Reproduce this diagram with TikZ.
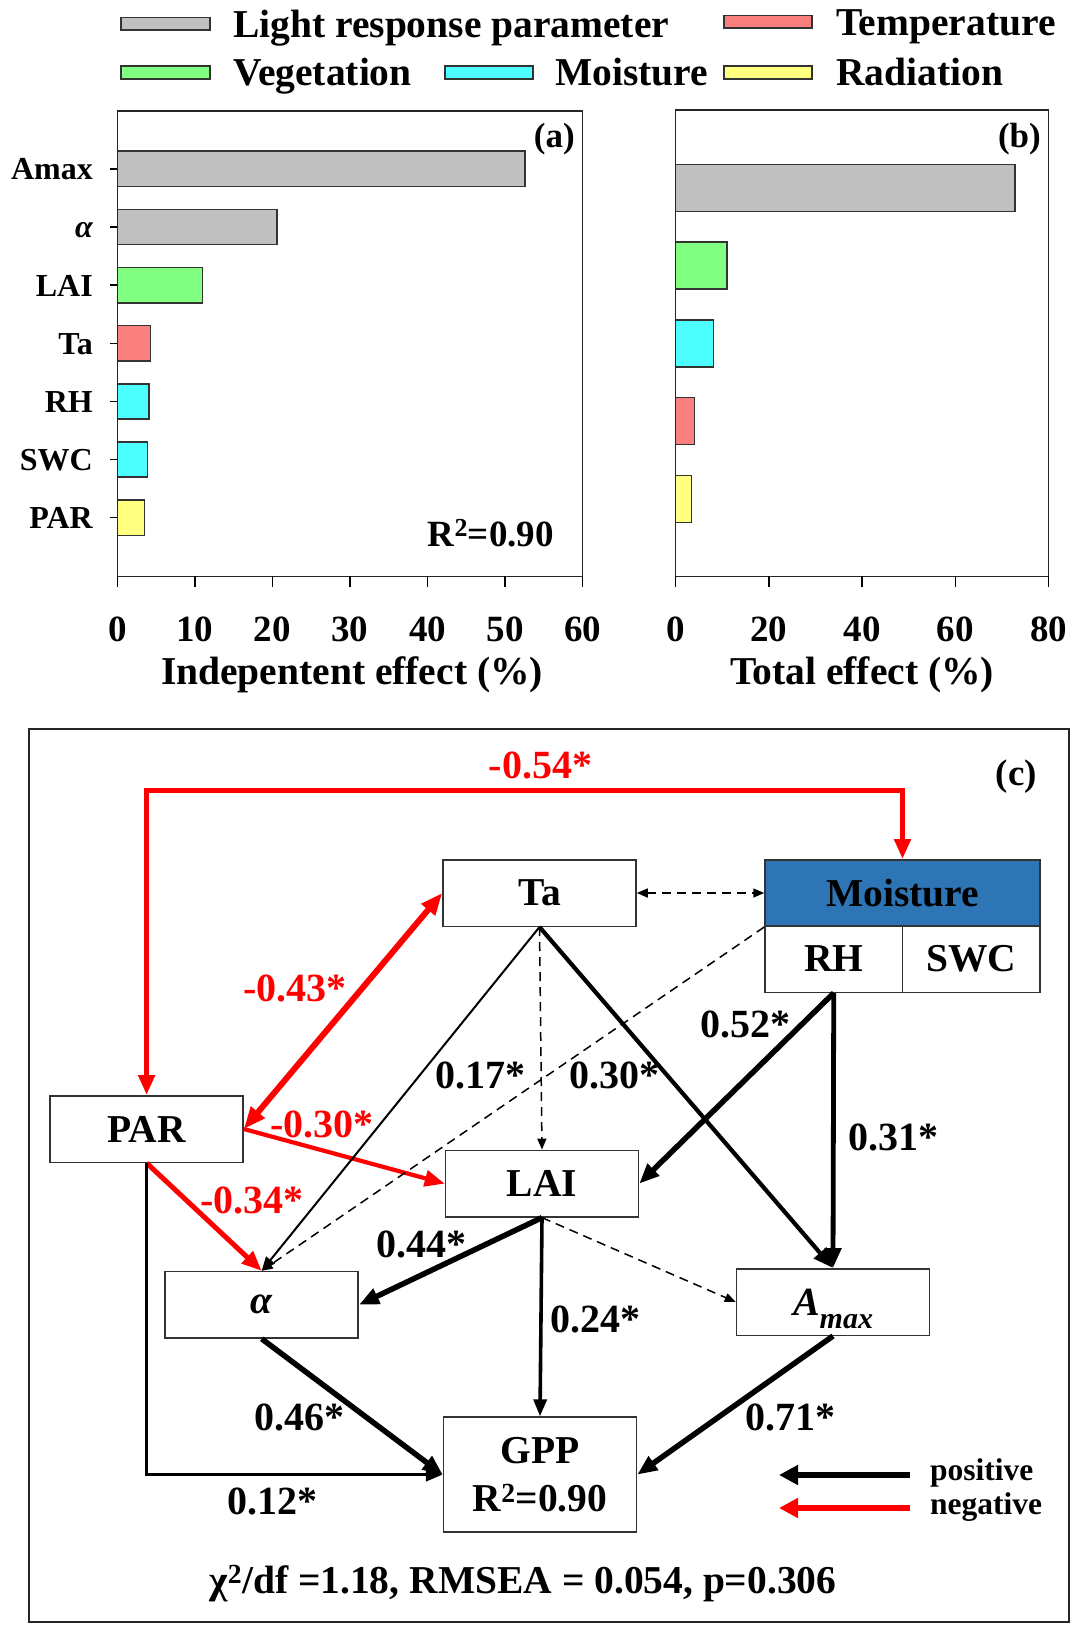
\documentclass[tikz,border=0pt]{standalone}
\usepackage{fontspec}
\setmainfont{Liberation Serif}
\usetikzlibrary{arrows.meta}
\definecolor{barGray}{HTML}{C0C0C0}
\definecolor{barRed}{HTML}{FA8080}
\definecolor{barGreen}{HTML}{80FF80}
\definecolor{barCyan}{HTML}{4DFFFF}
\definecolor{barYellow}{HTML}{FFFF80}
\definecolor{moistBlue}{HTML}{2E75B6}
\definecolor{negRed}{HTML}{FF0000}
\definecolor{edgeGray}{HTML}{333333}
\newcommand{\fsz}[2]{\fontsize{#1}{#2}\selectfont}
\begin{document}
\begin{tikzpicture}[x=1pt,y=-1pt,
  swatch/.style={draw=edgeGray,line width=1.4pt},
  barbox/.style={draw=edgeGray,line width=1.5pt},
  axframe/.style={draw=black!85,line width=1.6pt},
  legtxt/.style={anchor=base west,inner sep=0pt,font=\fsz{39.5}{44}\bfseries},
  cattxt/.style={anchor=base east,inner sep=0pt,font=\fsz{32}{36}\bfseries},
  ticktxt/.style={anchor=base,inner sep=0pt,font=\fsz{37}{42}\bfseries},
  axtxt/.style={anchor=base,inner sep=0pt,font=\fsz{39.5}{44}\bfseries},
  bx/.style={draw=edgeGray,line width=1.5pt,fill=white,minimum width=193pt,minimum height=66.5pt,inner sep=0pt,font=\fsz{39.5}{48}\bfseries},
  lbl/.style={inner sep=0pt,font=\fsz{40}{44}\bfseries},
  nlbl/.style={lbl,text=negRed},
  thk/.style={draw=black,line width=5.5pt,-{Triangle[length=20pt,width=16pt]}},
  med/.style={draw=black,line width=3.6pt,-{Triangle[length=17pt,width=13pt]}},
  thn/.style={draw=black,line width=2pt,-{Triangle[length=14pt,width=11pt]}},
  dsh/.style={draw=black,line width=1.5pt,dash pattern=on 9pt off 6pt,-{Triangle[length=11pt,width=9pt]}},
  neg/.style={draw=negRed,line width=5pt,-{Triangle[length=20pt,width=16pt]}},
]
\useasboundingbox[fill=white] (0,0) rectangle (1080,1628);

% ---------------- legend ----------------
\draw[swatch,fill=barGray]   (121,17.5) rectangle (210,30);
\draw[swatch,fill=barRed]    (724,15.5) rectangle (812,28);
\draw[swatch,fill=barGreen]  (121,66) rectangle (210,79);
\draw[swatch,fill=barCyan]   (445,66) rectangle (533,79);
\draw[swatch,fill=barYellow] (724,66) rectangle (812,79);
\node[legtxt] (lg1) at (233,37) {Light response parameter};
\node[legtxt] (lg2) at (836,35) {Temperature};
\node[legtxt] (lg3) at (233,85) {Vegetation};
\node[legtxt] (lg4) at (555,85) {Moisture};
\node[legtxt] (lg5) at (836,85) {Radiation};

% ---------------- panel (a) ----------------
\foreach \v/\c [count=\i from 0] in {52.6/barGray,20.6/barGray,11.0/barGreen,4.3/barRed,4.1/barCyan,3.9/barCyan,3.5/barYellow}{
  \draw[barbox,fill=\c] (117.3,{168.8+58.15*\i-17.65}) rectangle ({117.3+7.755*\v},{168.8+58.15*\i+17.65});
  \draw[line width=1.5pt] (110,{168.8+58.15*\i}) -- (117.3,{168.8+58.15*\i});
}
\foreach \t [count=\i from 0] in {Amax,{\itshape α},LAI,Ta,RH,SWC,PAR}{
  \node[cattxt] (cat\i) at (93,{168.8+58.15*\i+11}) {\t};
}
\draw[axframe] (117.3,111) rectangle (582.6,576.4);
\foreach \k/\t in {0/0,1/10,2/20,3/30,4/40,5/50,6/60}{
  \draw[line width=1.5pt] ({117.3+77.55*\k},576.4) -- ++(0,11);
  \node[ticktxt] (ta\k) at ({117.3+77.55*\k},641) {\t};
}
\node[axtxt] (xa) at (352,684) {Indepentent effect (\%)};
\node[anchor=base east,inner sep=0pt,font=\fsz{35}{40}\bfseries] (pa) at (575,147) {(a)};
\node[anchor=base east,inner sep=0pt,font=\fsz{37}{42}\bfseries] (r2a) at (554,546) {R\textsuperscript{2}=0.90};

% ---------------- panel (b) ----------------
\foreach \v/\c [count=\i from 0] in {72.8/barGray,11.0/barGreen,8.1/barCyan,4.1/barRed,3.45/barYellow}{
  \draw[barbox,fill=\c] (675.5,{188+77.7*\i-23.5}) rectangle ({675.5+4.664*\v},{188+77.7*\i+23.5});
}
\draw[axframe] (675.5,110) rectangle (1048.6,576.4);
\foreach \k/\t in {0/0,1/20,2/40,3/60,4/80}{
  \draw[line width=1.5pt] ({675.5+93.28*\k},576.4) -- ++(0,11);
  \node[ticktxt] (tb\k) at ({675.5+93.28*\k},641) {\t};
}
\node[axtxt] (xb) at (862,684) {Total effect (\%)};
\node[anchor=base east,inner sep=0pt,font=\fsz{35}{40}\bfseries] (pb) at (1041,147) {(b)};

% ---------------- panel (c) ----------------
\draw[line width=2pt,draw=black!85] (28.5,729) rectangle (1069,1622);
\node[anchor=base east,inner sep=0pt,font=\fsz{37}{40}\bfseries] (pc) at (1037,785) {(c)};

\node[bx] (ta) at (539.5,893) {Ta};
\node[bx,fill=moistBlue,minimum width=275pt] (moist) at (902.5,893) {Moisture};
\node[bx,minimum width=137.5pt] (rh) at (833.75,959) {RH};
\node[bx,minimum width=137.5pt] (swc) at (971.25,959) {SWC};
\node[bx] (par) at (146.6,1129) {PAR};
\node[bx] (lai) at (542,1183.6) {LAI};
\node[bx] (alpha) at (261.7,1304.8) {\itshape α};
\node[bx,text height=40pt,text depth=13pt] (amax) at (833,1302) {\fsz{40}{44}\itshape A\raisebox{-13pt}{\fsz{30}{32}max}};
\node[bx,minimum height=115pt,align=center] (gpp) at (540,1474.6) {GPP\\R\textsuperscript{2}=0.90};

\coordinate (topline) at (0,790);

% red (negative) paths
\draw[neg,{Triangle[length=20pt,width=16pt]}-{Triangle[length=20pt,width=16pt]}]
  (par.north) -- (par.north |- topline) -- (moist.north |- topline) -- (moist.north);
\draw[neg,line width=6pt,{Triangle[length=22pt,width=17pt]}-{Triangle[length=22pt,width=17pt]}] (par.east) -- (ta.west);
\draw[neg,line width=4.2pt] (par.east) -- (lai.west);
\draw[neg] (par.south) -- (alpha.north);

% dashed (non-significant)
\draw[dsh,{Triangle[length=11pt,width=9pt]}-{Triangle[length=11pt,width=9pt]}] (ta.east) -- (moist.west);
\draw[dsh] (ta.south) -- (lai.north);
\draw[dsh] (moist.south west) -- (alpha.north);
\draw[dsh] (lai.south) -- (amax.west);

% black (positive)
\draw[thn] (ta.south) -- (alpha.north);
\draw[thk,line width=4.2pt] (ta.south) -- (amax.north);
\draw[thk] (rh.south) -- (lai.east);
\draw[thk,line width=4.8pt] (rh.south) -- (amax.north);
\draw[thk] (lai.south) -- (alpha.east);
\draw[med] (lai.south) -- (gpp.north);
\draw[thk] (alpha.south) -- (gpp.west);
\draw[thk] (amax.south) -- (gpp.east);
\draw[med] (par.south) |- (gpp.west);

% edge labels
\node[nlbl] (l054) at (540.6,765.5) {-0.54*};
\node[nlbl] (l043) at (294.8,988) {-0.43*};
\node[nlbl] (l030) at (322,1124) {-0.30*};
\node[nlbl] (l034) at (252,1200) {-0.34*};
\node[lbl] (l017) at (480,1075) {0.17*};
\node[lbl] (l030b) at (614,1075) {0.30*};
\node[lbl] (l052) at (745,1024) {0.52*};
\node[lbl] (l031) at (893,1137.5) {0.31*};
\node[lbl] (l044) at (421.5,1244.6) {0.44*};
\node[lbl] (l024) at (595,1319) {0.24*};
\node[lbl] (l046) at (299,1417) {0.46*};
\node[lbl] (l071) at (790.6,1417) {0.71*};
\node[lbl] (l012) at (272,1501) {0.12*};

% legend of arrows
\coordinate (pa1) at (910,1475);
\coordinate (pa2) at (779,1475);
\coordinate (na1) at (910,1508);
\coordinate (na2) at (779,1508);
\draw[draw=black,line width=6pt,-{Triangle[length=19pt,width=19pt]}] (pa1) -- (pa2);
\draw[draw=negRed,line width=6pt,-{Triangle[length=19pt,width=19pt]}] (na1) -- (na2);
\node[anchor=base west,inner sep=0pt,font=\fsz{31.5}{36}\bfseries] (lpos) at (930,1480) {positive};
\node[anchor=base west,inner sep=0pt,font=\fsz{31.5}{36}\bfseries] (lneg) at (930,1514) {negative};

\node[anchor=base,inner sep=0pt,font=\fsz{39.5}{44}\bfseries] (fit) at (523,1593) {χ\textsuperscript{2}/df =1.18, RMSEA = 0.054, p=0.306};
\end{tikzpicture}
\end{document}
